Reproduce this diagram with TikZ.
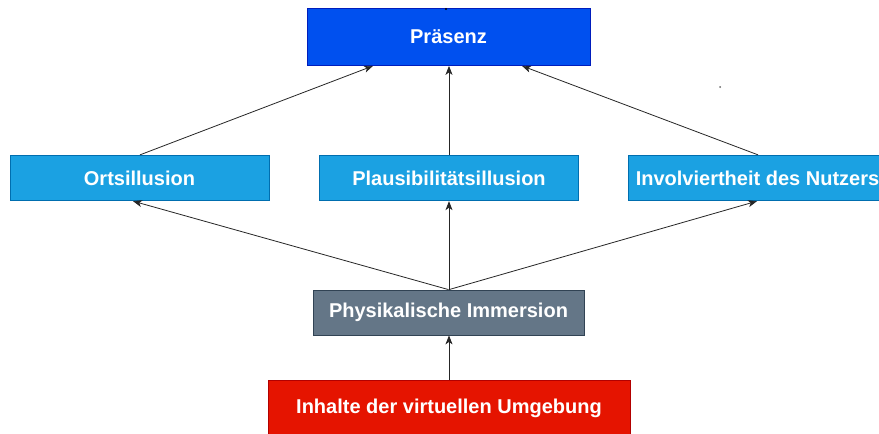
\documentclass[tikz,border=0pt]{standalone}
\usepackage{fontspec}
\setmainfont{Liberation Sans}
\usetikzlibrary{arrows.meta}
\definecolor{pblue}{HTML}{0050EF}
\definecolor{pbluestroke}{HTML}{001DBC}
\definecolor{lblue}{HTML}{1BA1E2}
\definecolor{lbluestroke}{HTML}{006EAF}
\definecolor{slate}{HTML}{647687}
\definecolor{slatestroke}{HTML}{314354}
\definecolor{dred}{HTML}{E51400}
\definecolor{dredstroke}{HTML}{B20000}
\tikzset{
  box/.style={rectangle, line width=0.8pt, text=white, inner sep=0pt,
    font=\bfseries\fontsize{20}{24}\selectfont},
  topbox/.style={box, fill=pblue, draw=pbluestroke},
  midbox/.style={box, fill=lblue, draw=lbluestroke},
  physbox/.style={box, fill=slate, draw=slatestroke},
  basebox/.style={box, fill=dred, draw=dredstroke},
  link/.style={draw=black!85, line width=0.8pt, -{Stealth[length=9pt,width=7pt,inset=2.5pt]}}
}
\begin{document}
\begin{tikzpicture}[x=1pt,y=-1pt]
\useasboundingbox (0,0) rectangle (879,434);
\clip (0,0) rectangle (879,434);
\fill[white] (0,0) rectangle (879,434);
\node[topbox, minimum width=283pt, minimum height=57pt] (praes) at (448.5,37) {Präsenz};
\node[midbox, minimum width=259pt, minimum height=45.5pt] (ort) at (139.5,178) {Ortsillusion};
\node[midbox, minimum width=259pt, minimum height=45.5pt] (plaus) at (449,178) {Plausibilitätsillusion};
\node[midbox, minimum width=259pt, minimum height=45.5pt] (inv) at (757.5,178) {Involviertheit des Nutzers};
\node[physbox, minimum width=271pt, minimum height=45pt] (phys) at (448.5,312.5) {Physikalische Immersion};
\node[basebox, minimum width=362pt, minimum height=56pt] (inh) at (449,408) {Inhalte der virtuellen Umgebung};
\draw[link] ([xshift=0.5pt]ort.north) -- ([xshift=-75.5pt]praes.south);
\draw[link] (plaus.north) -- ([xshift=0.5pt]praes.south);
\draw[link] ([xshift=0.5pt]inv.north) -- ([xshift=73.5pt]praes.south);
\draw[link] (phys.north) -- ([xshift=-6.5pt]ort.south);
\draw[link] ([xshift=0.5pt]phys.north) -- (plaus.south);
\draw[link] ([xshift=0.5pt]phys.north) -- ([xshift=-0.5pt]inv.south);
\draw[link] (inh.north) -- ([xshift=0.5pt]phys.south);
\fill[black] (446,9) circle (1.2pt);
\fill[black!60] (720,87) circle (1pt);
\end{tikzpicture}
\end{document}
